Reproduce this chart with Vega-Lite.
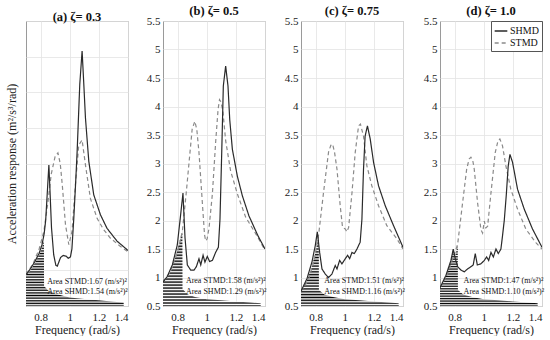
{
 "$schema": "https://vega.github.io/schema/vega-lite/v6.json",
 "background": "white",
 "padding": {"left": 4, "top": 4, "right": 2, "bottom": 0},
 "datasets": {
  "curves": [
   {"p":"a","s":"STMD","x":0.70,"y":0.94},{"p":"a","s":"STMD","x":0.75,"y":1.1},{"p":"a","s":"STMD","x":0.79,"y":1.3},{"p":"a","s":"STMD","x":0.823,"y":1.55},{"p":"a","s":"STMD","x":0.85,"y":1.95},{"p":"a","s":"STMD","x":0.873,"y":2.35},{"p":"a","s":"STMD","x":0.9,"y":2.6},{"p":"a","s":"STMD","x":0.919,"y":2.65},{"p":"a","s":"STMD","x":0.935,"y":2.5},{"p":"a","s":"STMD","x":0.949,"y":2.2},{"p":"a","s":"STMD","x":0.971,"y":1.64},{"p":"a","s":"STMD","x":0.994,"y":1.36},{"p":"a","s":"STMD","x":1.016,"y":1.55},{"p":"a","s":"STMD","x":1.039,"y":2.2},{"p":"a","s":"STMD","x":1.062,"y":2.76},{"p":"a","s":"STMD","x":1.085,"y":2.83},{"p":"a","s":"STMD","x":1.108,"y":2.48},{"p":"a","s":"STMD","x":1.142,"y":2.01},{"p":"a","s":"STMD","x":1.188,"y":1.73},{"p":"a","s":"STMD","x":1.23,"y":1.58},{"p":"a","s":"STMD","x":1.28,"y":1.45},{"p":"a","s":"STMD","x":1.34,"y":1.35},{"p":"a","s":"STMD","x":1.4,"y":1.26},
   {"p":"a","s":"SHMD","x":0.70,"y":0.94},{"p":"a","s":"SHMD","x":0.73,"y":1.02},{"p":"a","s":"SHMD","x":0.76,"y":1.12},{"p":"a","s":"SHMD","x":0.79,"y":1.24},{"p":"a","s":"SHMD","x":0.81,"y":1.36},{"p":"a","s":"SHMD","x":0.825,"y":1.52},{"p":"a","s":"SHMD","x":0.835,"y":1.7},{"p":"a","s":"SHMD","x":0.845,"y":2.05},{"p":"a","s":"SHMD","x":0.857,"y":2.48},{"p":"a","s":"SHMD","x":0.865,"y":2.1},{"p":"a","s":"SHMD","x":0.875,"y":1.6},{"p":"a","s":"SHMD","x":0.89,"y":1.22},{"p":"a","s":"SHMD","x":0.905,"y":1.07},{"p":"a","s":"SHMD","x":0.915,"y":1.06},{"p":"a","s":"SHMD","x":0.937,"y":1.18},{"p":"a","s":"SHMD","x":0.955,"y":1.21},{"p":"a","s":"SHMD","x":0.975,"y":1.2},{"p":"a","s":"SHMD","x":0.99,"y":1.17},{"p":"a","s":"SHMD","x":1.005,"y":1.19},{"p":"a","s":"SHMD","x":1.015,"y":1.3},{"p":"a","s":"SHMD","x":1.028,"y":1.73},{"p":"a","s":"SHMD","x":1.04,"y":2.2},{"p":"a","s":"SHMD","x":1.051,"y":2.67},{"p":"a","s":"SHMD","x":1.069,"y":3.61},{"p":"a","s":"SHMD","x":1.085,"y":4.08},{"p":"a","s":"SHMD","x":1.097,"y":3.6},{"p":"a","s":"SHMD","x":1.108,"y":3.14},{"p":"a","s":"SHMD","x":1.131,"y":2.53},{"p":"a","s":"SHMD","x":1.165,"y":2.06},{"p":"a","s":"SHMD","x":1.211,"y":1.78},{"p":"a","s":"SHMD","x":1.256,"y":1.59},{"p":"a","s":"SHMD","x":1.325,"y":1.41},{"p":"a","s":"SHMD","x":1.4,"y":1.28},

   {"p":"b","s":"STMD","x":0.70,"y":0.92},{"p":"b","s":"STMD","x":0.75,"y":1.1},{"p":"b","s":"STMD","x":0.8,"y":1.45},{"p":"b","s":"STMD","x":0.833,"y":1.81},{"p":"b","s":"STMD","x":0.86,"y":2.5},{"p":"b","s":"STMD","x":0.885,"y":3.19},{"p":"b","s":"STMD","x":0.9,"y":3.6},{"p":"b","s":"STMD","x":0.918,"y":3.74},{"p":"b","s":"STMD","x":0.932,"y":3.6},{"p":"b","s":"STMD","x":0.947,"y":3.19},{"p":"b","s":"STMD","x":0.97,"y":2.31},{"p":"b","s":"STMD","x":0.985,"y":1.75},{"p":"b","s":"STMD","x":0.993,"y":1.64},{"p":"b","s":"STMD","x":1.003,"y":1.68},{"p":"b","s":"STMD","x":1.016,"y":1.87},{"p":"b","s":"STMD","x":1.039,"y":2.47},{"p":"b","s":"STMD","x":1.062,"y":3.4},{"p":"b","s":"STMD","x":1.078,"y":3.95},{"p":"b","s":"STMD","x":1.088,"y":4.12},{"p":"b","s":"STMD","x":1.098,"y":4.08},{"p":"b","s":"STMD","x":1.111,"y":3.92},{"p":"b","s":"STMD","x":1.13,"y":3.4},{"p":"b","s":"STMD","x":1.164,"y":2.87},{"p":"b","s":"STMD","x":1.21,"y":2.47},{"p":"b","s":"STMD","x":1.267,"y":2.06},{"p":"b","s":"STMD","x":1.336,"y":1.77},{"p":"b","s":"STMD","x":1.4,"y":1.48},
   {"p":"b","s":"SHMD","x":0.70,"y":0.92},{"p":"b","s":"SHMD","x":0.73,"y":1.02},{"p":"b","s":"SHMD","x":0.764,"y":1.22},{"p":"b","s":"SHMD","x":0.798,"y":1.57},{"p":"b","s":"SHMD","x":0.821,"y":2.1},{"p":"b","s":"SHMD","x":0.837,"y":2.48},{"p":"b","s":"SHMD","x":0.851,"y":1.7},{"p":"b","s":"SHMD","x":0.867,"y":1.22},{"p":"b","s":"SHMD","x":0.89,"y":1.13},{"p":"b","s":"SHMD","x":0.913,"y":1.13},{"p":"b","s":"SHMD","x":0.929,"y":1.19},{"p":"b","s":"SHMD","x":0.947,"y":1.33},{"p":"b","s":"SHMD","x":0.959,"y":1.22},{"p":"b","s":"SHMD","x":0.975,"y":1.39},{"p":"b","s":"SHMD","x":0.988,"y":1.27},{"p":"b","s":"SHMD","x":1.004,"y":1.37},{"p":"b","s":"SHMD","x":1.02,"y":1.28},{"p":"b","s":"SHMD","x":1.039,"y":1.3},{"p":"b","s":"SHMD","x":1.061,"y":1.44},{"p":"b","s":"SHMD","x":1.08,"y":1.53},{"p":"b","s":"SHMD","x":1.091,"y":2.02},{"p":"b","s":"SHMD","x":1.103,"y":3.19},{"p":"b","s":"SHMD","x":1.114,"y":4.36},{"p":"b","s":"SHMD","x":1.13,"y":4.71},{"p":"b","s":"SHMD","x":1.146,"y":4.36},{"p":"b","s":"SHMD","x":1.158,"y":3.77},{"p":"b","s":"SHMD","x":1.176,"y":3.25},{"p":"b","s":"SHMD","x":1.21,"y":2.78},{"p":"b","s":"SHMD","x":1.245,"y":2.43},{"p":"b","s":"SHMD","x":1.29,"y":2.08},{"p":"b","s":"SHMD","x":1.352,"y":1.73},{"p":"b","s":"SHMD","x":1.4,"y":1.5},

   {"p":"c","s":"STMD","x":0.70,"y":0.76},{"p":"c","s":"STMD","x":0.75,"y":0.95},{"p":"c","s":"STMD","x":0.79,"y":1.3},{"p":"c","s":"STMD","x":0.821,"y":1.75},{"p":"c","s":"STMD","x":0.855,"y":2.5},{"p":"c","s":"STMD","x":0.889,"y":3.2},{"p":"c","s":"STMD","x":0.905,"y":3.32},{"p":"c","s":"STMD","x":0.917,"y":3.34},{"p":"c","s":"STMD","x":0.93,"y":3.2},{"p":"c","s":"STMD","x":0.947,"y":2.9},{"p":"c","s":"STMD","x":0.969,"y":2.26},{"p":"c","s":"STMD","x":0.985,"y":1.88},{"p":"c","s":"STMD","x":1.004,"y":1.85},{"p":"c","s":"STMD","x":1.015,"y":1.8},{"p":"c","s":"STMD","x":1.027,"y":1.88},{"p":"c","s":"STMD","x":1.05,"y":2.49},{"p":"c","s":"STMD","x":1.072,"y":3.19},{"p":"c","s":"STMD","x":1.095,"y":3.66},{"p":"c","s":"STMD","x":1.108,"y":3.69},{"p":"c","s":"STMD","x":1.129,"y":3.48},{"p":"c","s":"STMD","x":1.152,"y":2.96},{"p":"c","s":"STMD","x":1.186,"y":2.61},{"p":"c","s":"STMD","x":1.232,"y":2.26},{"p":"c","s":"STMD","x":1.289,"y":1.91},{"p":"c","s":"STMD","x":1.358,"y":1.68},{"p":"c","s":"STMD","x":1.4,"y":1.5},
   {"p":"c","s":"SHMD","x":0.70,"y":0.76},{"p":"c","s":"SHMD","x":0.741,"y":0.98},{"p":"c","s":"SHMD","x":0.775,"y":1.27},{"p":"c","s":"SHMD","x":0.798,"y":1.56},{"p":"c","s":"SHMD","x":0.812,"y":1.8},{"p":"c","s":"SHMD","x":0.828,"y":1.44},{"p":"c","s":"SHMD","x":0.844,"y":1.15},{"p":"c","s":"SHMD","x":0.867,"y":1.06},{"p":"c","s":"SHMD","x":0.889,"y":1.0},{"p":"c","s":"SHMD","x":0.912,"y":1.06},{"p":"c","s":"SHMD","x":0.935,"y":1.21},{"p":"c","s":"SHMD","x":0.947,"y":1.15},{"p":"c","s":"SHMD","x":0.965,"y":1.3},{"p":"c","s":"SHMD","x":0.981,"y":1.24},{"p":"c","s":"SHMD","x":1.004,"y":1.33},{"p":"c","s":"SHMD","x":1.02,"y":1.39},{"p":"c","s":"SHMD","x":1.034,"y":1.33},{"p":"c","s":"SHMD","x":1.05,"y":1.44},{"p":"c","s":"SHMD","x":1.066,"y":1.42},{"p":"c","s":"SHMD","x":1.084,"y":1.5},{"p":"c","s":"SHMD","x":1.106,"y":1.62},{"p":"c","s":"SHMD","x":1.118,"y":2.02},{"p":"c","s":"SHMD","x":1.129,"y":2.9},{"p":"c","s":"SHMD","x":1.14,"y":3.48},{"p":"c","s":"SHMD","x":1.156,"y":3.66},{"p":"c","s":"SHMD","x":1.175,"y":3.43},{"p":"c","s":"SHMD","x":1.198,"y":3.02},{"p":"c","s":"SHMD","x":1.232,"y":2.61},{"p":"c","s":"SHMD","x":1.278,"y":2.26},{"p":"c","s":"SHMD","x":1.335,"y":1.91},{"p":"c","s":"SHMD","x":1.4,"y":1.53},

   {"p":"d","s":"STMD","x":0.70,"y":0.82},{"p":"d","s":"STMD","x":0.75,"y":1.05},{"p":"d","s":"STMD","x":0.79,"y":1.35},{"p":"d","s":"STMD","x":0.821,"y":1.58},{"p":"d","s":"STMD","x":0.855,"y":2.31},{"p":"d","s":"STMD","x":0.883,"y":2.9},{"p":"d","s":"STMD","x":0.9,"y":3.08},{"p":"d","s":"STMD","x":0.912,"y":3.11},{"p":"d","s":"STMD","x":0.925,"y":3.05},{"p":"d","s":"STMD","x":0.935,"y":2.9},{"p":"d","s":"STMD","x":0.958,"y":2.31},{"p":"d","s":"STMD","x":0.981,"y":1.84},{"p":"d","s":"STMD","x":0.992,"y":1.78},{"p":"d","s":"STMD","x":1.004,"y":1.99},{"p":"d","s":"STMD","x":1.015,"y":1.87},{"p":"d","s":"STMD","x":1.027,"y":1.9},{"p":"d","s":"STMD","x":1.05,"y":2.49},{"p":"d","s":"STMD","x":1.079,"y":3.19},{"p":"d","s":"STMD","x":1.098,"y":3.4},{"p":"d","s":"STMD","x":1.111,"y":3.43},{"p":"d","s":"STMD","x":1.129,"y":3.31},{"p":"d","s":"STMD","x":1.152,"y":2.96},{"p":"d","s":"STMD","x":1.186,"y":2.55},{"p":"d","s":"STMD","x":1.232,"y":2.2},{"p":"d","s":"STMD","x":1.289,"y":1.85},{"p":"d","s":"STMD","x":1.358,"y":1.61},{"p":"d","s":"STMD","x":1.4,"y":1.5},
   {"p":"d","s":"SHMD","x":0.70,"y":0.82},{"p":"d","s":"SHMD","x":0.741,"y":1.04},{"p":"d","s":"SHMD","x":0.775,"y":1.3},{"p":"d","s":"SHMD","x":0.791,"y":1.5},{"p":"d","s":"SHMD","x":0.805,"y":1.33},{"p":"d","s":"SHMD","x":0.821,"y":1.19},{"p":"d","s":"SHMD","x":0.844,"y":1.13},{"p":"d","s":"SHMD","x":0.867,"y":1.1},{"p":"d","s":"SHMD","x":0.889,"y":1.15},{"p":"d","s":"SHMD","x":0.912,"y":1.19},{"p":"d","s":"SHMD","x":0.928,"y":1.22},{"p":"d","s":"SHMD","x":0.942,"y":1.42},{"p":"d","s":"SHMD","x":0.956,"y":1.22},{"p":"d","s":"SHMD","x":0.981,"y":1.24},{"p":"d","s":"SHMD","x":1.004,"y":1.3},{"p":"d","s":"SHMD","x":1.02,"y":1.36},{"p":"d","s":"SHMD","x":1.034,"y":1.3},{"p":"d","s":"SHMD","x":1.05,"y":1.44},{"p":"d","s":"SHMD","x":1.066,"y":1.36},{"p":"d","s":"SHMD","x":1.084,"y":1.5},{"p":"d","s":"SHMD","x":1.1,"y":1.42},{"p":"d","s":"SHMD","x":1.118,"y":1.5},{"p":"d","s":"SHMD","x":1.129,"y":1.73},{"p":"d","s":"SHMD","x":1.141,"y":2.0},{"p":"d","s":"SHMD","x":1.155,"y":2.45},{"p":"d","s":"SHMD","x":1.168,"y":2.95},{"p":"d","s":"SHMD","x":1.18,"y":3.16},{"p":"d","s":"SHMD","x":1.198,"y":3.02},{"p":"d","s":"SHMD","x":1.232,"y":2.55},{"p":"d","s":"SHMD","x":1.278,"y":2.2},{"p":"d","s":"SHMD","x":1.335,"y":1.85},{"p":"d","s":"SHMD","x":1.4,"y":1.53}
  ],
  "hatch": [
   {"p":"a","x":0.70,"y":0.94},{"p":"a","x":0.73,"y":1.0},{"p":"a","x":0.76,"y":1.1},{"p":"a","x":0.79,"y":1.22},{"p":"a","x":0.81,"y":1.32},{"p":"a","x":0.823,"y":1.42},{"p":"a","x":0.824,"y":0.78},{"p":"a","x":0.86,"y":0.7},{"p":"a","x":0.92,"y":0.66},{"p":"a","x":1.0,"y":0.62},{"p":"a","x":1.1,"y":0.6},{"p":"a","x":1.2,"y":0.58},{"p":"a","x":1.3,"y":0.56},{"p":"a","x":1.37,"y":0.55},{"p":"a","x":1.371,"y":0.5},
   {"p":"b","x":0.70,"y":0.92},{"p":"b","x":0.73,"y":1.0},{"p":"b","x":0.76,"y":1.15},{"p":"b","x":0.79,"y":1.4},{"p":"b","x":0.81,"y":1.6},{"p":"b","x":0.833,"y":1.81},{"p":"b","x":0.834,"y":0.8},{"p":"b","x":0.87,"y":0.7},{"p":"b","x":0.92,"y":0.66},{"p":"b","x":1.0,"y":0.62},{"p":"b","x":1.1,"y":0.6},{"p":"b","x":1.2,"y":0.58},{"p":"b","x":1.3,"y":0.56},{"p":"b","x":1.37,"y":0.55},{"p":"b","x":1.371,"y":0.5},
   {"p":"c","x":0.70,"y":0.76},{"p":"c","x":0.74,"y":0.95},{"p":"c","x":0.77,"y":1.15},{"p":"c","x":0.8,"y":1.45},{"p":"c","x":0.822,"y":1.75},{"p":"c","x":0.823,"y":0.78},{"p":"c","x":0.86,"y":0.7},{"p":"c","x":0.92,"y":0.66},{"p":"c","x":1.0,"y":0.62},{"p":"c","x":1.1,"y":0.6},{"p":"c","x":1.2,"y":0.58},{"p":"c","x":1.3,"y":0.56},{"p":"c","x":1.37,"y":0.55},{"p":"c","x":1.371,"y":0.5},
   {"p":"d","x":0.70,"y":0.82},{"p":"d","x":0.74,"y":1.02},{"p":"d","x":0.775,"y":1.3},{"p":"d","x":0.79,"y":1.48},{"p":"d","x":0.805,"y":1.38},{"p":"d","x":0.822,"y":1.58},{"p":"d","x":0.823,"y":0.78},{"p":"d","x":0.86,"y":0.7},{"p":"d","x":0.92,"y":0.66},{"p":"d","x":1.0,"y":0.62},{"p":"d","x":1.1,"y":0.6},{"p":"d","x":1.2,"y":0.58},{"p":"d","x":1.3,"y":0.56},{"p":"d","x":1.37,"y":0.55},{"p":"d","x":1.371,"y":0.5}
  ],
  "notes": [
   {"p":"a","x":0.845,"y":0.84,"t":"Area STMD:1.67 (m/s²)²"},{"p":"a","x":0.845,"y":0.70,"t":"Area SHMD:1.54 (m/s²)²"},
   {"p":"b","x":0.857,"y":0.93,"t":"Area STMD:1.58 (m/s²)²"},{"p":"b","x":0.857,"y":0.75,"t":"Area SHMD:1.29 (m/s²)²"},
   {"p":"c","x":0.86,"y":0.93,"t":"Area STMD:1.51 (m/s²)²"},{"p":"c","x":0.86,"y":0.75,"t":"Area SHMD:1.16 (m/s²)²"},
   {"p":"d","x":0.862,"y":0.93,"t":"Area STMD:1.47 (m/s²)²"},{"p":"d","x":0.862,"y":0.75,"t":"Area SHMD:1.10 (m/s²)²"}
  ]
 },
 "spacing": 16,
 "resolve": {"scale": {"color": "independent", "strokeDash": "independent", "y": "independent"}, "legend": {"color": "independent", "strokeDash": "independent"}},
 "hconcat": [
  {
   "width": 102, "height": 285,
   "title": "(a) ζ= 0.3",
   "encoding": {
    "x": {"field":"x","type":"quantitative","scale":{"domain":[0.7,1.4],"nice":false,"zero":false},"axis":{"values":[0.8,1,1.2,1.4],"labelExpr":"datum.value + ''","title":"Frequency (rad/s)"}},
    "y": {"field":"y","type":"quantitative","scale":{"domain":[0.5,4.5],"nice":false,"zero":false},"axis":{"values":[0.5,1,1.5,2,2.5,3,3.5,4,4.5],"labels":false,"title":"Acceleration response (m²/s³/rad)","titlePadding":8}}
   },
   "layer": [
    {"data":{"name":"hatch"},"transform":[{"filter":"datum.p == 'a'"}],"mark":{"type":"area","clip":true},"encoding":{"y2":{"datum":0.5}}},
    {"data":{"name":"curves"},"transform":[{"filter":"datum.p == 'a'"}],"mark":{"type":"line","clip":true,"strokeWidth":1.2},"encoding":{
      "color":{"field":"s","type":"nominal","scale":{"domain":["SHMD","STMD"],"range":["#2a2a2a","#8a8a8a"]},"legend":null},
      "strokeDash":{"field":"s","type":"nominal","scale":{"domain":["SHMD","STMD"],"range":[[1,0],[4,3]]},"legend":null}}},
    {"data":{"name":"notes"},"transform":[{"filter":"datum.p == 'a'"}],"mark":{"type":"text","align":"left","baseline":"middle","font":"Liberation Serif","fontSize":8,"color":"#111"},"encoding":{"text":{"field":"t"}}}
   ]
  },
  {
   "width": 102, "height": 285,
   "title": "(b) ζ= 0.5",
   "encoding": {
    "x": {"field":"x","type":"quantitative","scale":{"domain":[0.7,1.4],"nice":false,"zero":false},"axis":{"values":[0.8,1,1.2,1.4],"labelExpr":"datum.value + ''","title":"Frequency (rad/s)"}},
    "y": {"field":"y","type":"quantitative","scale":{"domain":[0.5,5.5],"nice":false,"zero":false},"axis":{"values":[0.5,1,1.5,2,2.5,3,3.5,4,4.5,5,5.5],"labelExpr":"datum.value + ''","title":null}}
   },
   "layer": [
    {"data":{"name":"hatch"},"transform":[{"filter":"datum.p == 'b'"}],"mark":{"type":"area","clip":true},"encoding":{"y2":{"datum":0.5}}},
    {"data":{"name":"curves"},"transform":[{"filter":"datum.p == 'b'"}],"mark":{"type":"line","clip":true,"strokeWidth":1.2},"encoding":{
      "color":{"field":"s","type":"nominal","scale":{"domain":["SHMD","STMD"],"range":["#2a2a2a","#8a8a8a"]},"legend":null},
      "strokeDash":{"field":"s","type":"nominal","scale":{"domain":["SHMD","STMD"],"range":[[1,0],[4,3]]},"legend":null}}},
    {"data":{"name":"notes"},"transform":[{"filter":"datum.p == 'b'"}],"mark":{"type":"text","align":"left","baseline":"middle","font":"Liberation Serif","fontSize":8,"color":"#111"},"encoding":{"text":{"field":"t"}}}
   ]
  },
  {
   "width": 102, "height": 285,
   "title": "(c) ζ= 0.75",
   "encoding": {
    "x": {"field":"x","type":"quantitative","scale":{"domain":[0.7,1.4],"nice":false,"zero":false},"axis":{"values":[0.8,1,1.2,1.4],"labelExpr":"datum.value + ''","title":"Frequency (rad/s)"}},
    "y": {"field":"y","type":"quantitative","scale":{"domain":[0.5,5.5],"nice":false,"zero":false},"axis":{"values":[0.5,1,1.5,2,2.5,3,3.5,4,4.5,5,5.5],"labelExpr":"datum.value + ''","title":null}}
   },
   "layer": [
    {"data":{"name":"hatch"},"transform":[{"filter":"datum.p == 'c'"}],"mark":{"type":"area","clip":true},"encoding":{"y2":{"datum":0.5}}},
    {"data":{"name":"curves"},"transform":[{"filter":"datum.p == 'c'"}],"mark":{"type":"line","clip":true,"strokeWidth":1.2},"encoding":{
      "color":{"field":"s","type":"nominal","scale":{"domain":["SHMD","STMD"],"range":["#2a2a2a","#8a8a8a"]},"legend":null},
      "strokeDash":{"field":"s","type":"nominal","scale":{"domain":["SHMD","STMD"],"range":[[1,0],[4,3]]},"legend":null}}},
    {"data":{"name":"notes"},"transform":[{"filter":"datum.p == 'c'"}],"mark":{"type":"text","align":"left","baseline":"middle","font":"Liberation Serif","fontSize":8,"color":"#111"},"encoding":{"text":{"field":"t"}}}
   ]
  },
  {
   "width": 102, "height": 285,
   "title": "(d) ζ= 1.0",
   "encoding": {
    "x": {"field":"x","type":"quantitative","scale":{"domain":[0.7,1.4],"nice":false,"zero":false},"axis":{"values":[0.8,1,1.2,1.4],"labelExpr":"datum.value + ''","title":"Frequency (rad/s)"}},
    "y": {"field":"y","type":"quantitative","scale":{"domain":[0.5,5.5],"nice":false,"zero":false},"axis":{"values":[0.5,1,1.5,2,2.5,3,3.5,4,4.5,5,5.5],"labelExpr":"datum.value + ''","title":null}}
   },
   "layer": [
    {"data":{"name":"hatch"},"transform":[{"filter":"datum.p == 'd'"}],"mark":{"type":"area","clip":true},"encoding":{"y2":{"datum":0.5}}},
    {"data":{"name":"curves"},"transform":[{"filter":"datum.p == 'd'"}],"mark":{"type":"line","clip":true,"strokeWidth":1.2},"encoding":{
      "color":{"field":"s","type":"nominal","scale":{"domain":["SHMD","STMD"],"range":["#2a2a2a","#8a8a8a"]},"legend":{"title":null,"orient":"top-right","offset":0,"strokeColor":"#555","fillColor":"white","padding":3,"labelFont":"Liberation Serif","labelFontSize":10,"labelColor":"#111","symbolType":"stroke","symbolSize":160,"symbolStrokeWidth":1.3,"rowPadding":0,"labelOffset":2}},
      "strokeDash":{"field":"s","type":"nominal","scale":{"domain":["SHMD","STMD"],"range":[[1,0],[4,3]]},"legend":{"title":null,"orient":"top-right","offset":0,"strokeColor":"#555","fillColor":"white","padding":3,"labelFont":"Liberation Serif","labelFontSize":10,"labelColor":"#111","symbolType":"stroke","symbolSize":160,"symbolStrokeWidth":1.3,"rowPadding":0,"labelOffset":2}}}},
    {"data":{"name":"notes"},"transform":[{"filter":"datum.p == 'd'"}],"mark":{"type":"text","align":"left","baseline":"middle","font":"Liberation Serif","fontSize":8,"color":"#111"},"encoding":{"text":{"field":"t"}}}
   ]
  }
 ],
 "config": {
  "font": "Liberation Serif",
  "view": {"stroke": "#9a9a9a"},
  "axis": {"labelFont":"Liberation Serif","titleFont":"Liberation Serif","labelFontSize":11,"titleFontSize":12,"titleFontWeight":"normal","labelColor":"#1a1a1a","titleColor":"#1a1a1a","domain":false,"ticks":false,"gridColor":"#e3e3e3","gridWidth":0.8},
  "axisX": {"labelPadding": 5, "titlePadding": 2},
  "axisY": {"labelPadding": 3},
  "title": {"font":"Liberation Serif","fontSize":12.5,"fontWeight":"bold","offset":-2,"color":"#111"},
  "area": {"fill": {"gradient":"linear","x1":0,"y1":0,"x2":0,"y2":1,"stops":[
   {"offset":0,"color":"#000"},{"offset":0.02,"color":"#fff"},{"offset":0.04,"color":"#000"},{"offset":0.06,"color":"#fff"},{"offset":0.08,"color":"#000"},{"offset":0.10,"color":"#fff"},{"offset":0.12,"color":"#000"},{"offset":0.14,"color":"#fff"},{"offset":0.16,"color":"#000"},{"offset":0.18,"color":"#fff"},{"offset":0.20,"color":"#000"},{"offset":0.22,"color":"#fff"},{"offset":0.24,"color":"#000"},{"offset":0.26,"color":"#fff"},{"offset":0.28,"color":"#000"},{"offset":0.30,"color":"#fff"},{"offset":0.32,"color":"#000"},{"offset":0.34,"color":"#fff"},{"offset":0.36,"color":"#000"},{"offset":0.38,"color":"#fff"},{"offset":0.40,"color":"#000"},{"offset":0.42,"color":"#fff"},{"offset":0.44,"color":"#000"},{"offset":0.46,"color":"#fff"},{"offset":0.48,"color":"#000"},{"offset":0.50,"color":"#fff"},{"offset":0.52,"color":"#000"},{"offset":0.54,"color":"#fff"},{"offset":0.56,"color":"#000"},{"offset":0.58,"color":"#fff"},{"offset":0.60,"color":"#000"},{"offset":0.62,"color":"#fff"},{"offset":0.64,"color":"#000"},{"offset":0.66,"color":"#fff"},{"offset":0.68,"color":"#000"},{"offset":0.70,"color":"#fff"},{"offset":0.72,"color":"#000"},{"offset":0.74,"color":"#fff"},{"offset":0.76,"color":"#000"},{"offset":0.78,"color":"#fff"},{"offset":0.80,"color":"#000"},{"offset":0.82,"color":"#fff"},{"offset":0.84,"color":"#000"},{"offset":0.86,"color":"#fff"},{"offset":0.88,"color":"#000"},{"offset":0.90,"color":"#fff"},{"offset":0.92,"color":"#000"},{"offset":0.94,"color":"#fff"},{"offset":0.96,"color":"#000"},{"offset":0.98,"color":"#fff"},{"offset":1,"color":"#000"}
  ]}}
 }
}
